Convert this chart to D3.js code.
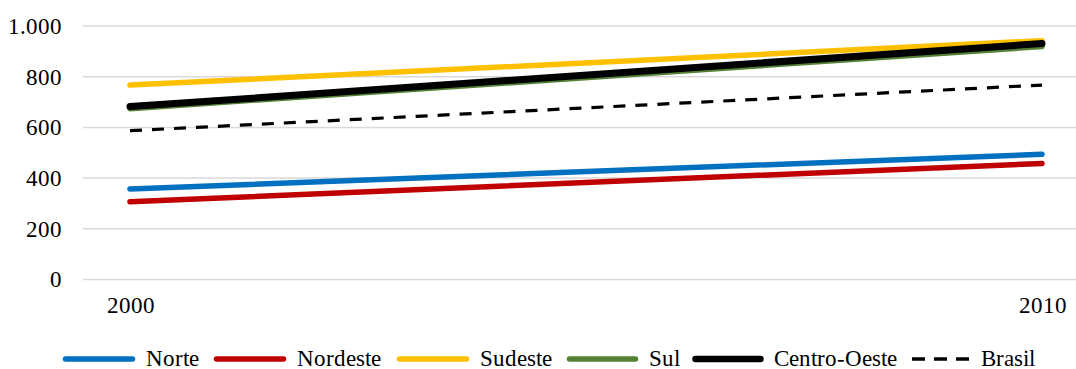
<!DOCTYPE html>
<html>
<head>
<meta charset="utf-8">
<script src="https://cdn.jsdelivr.net/npm/d3@7/dist/d3.min.js"></script>
<style>
  @font-face {
    font-family: "ChartSerif";
    src: local("Liberation Serif"), local("LiberationSerif"), local("LiberationSerif-Regular"), local("Times New Roman");
  }
  html, body { margin: 0; padding: 0; background: #fff; }
  #chart text { font-family: "ChartSerif", "Times New Roman", serif; font-size: 23px; fill: #000; }
</style>
</head>
<body>
<svg id="chart" width="1076" height="369"></svg>
<script>
// Years on the category axis
const years = [2000, 2010];
// Regions and their values for each year
const regions = ["Norte", "Nordeste", "Sudeste", "Sul", "Centro-Oeste", "Brasil"];
const norte = [357, 494];
const nordeste = [307, 458];
const sudeste = [767, 942];
const sul = [674, 919];
const centroOeste = [682, 931];
const brasil = [587, 767];
// Value-axis ticks
const yTicks = [0, 200, 400, 600, 800, 1000];

const seriesValues = [norte, nordeste, sudeste, sul, centroOeste, brasil];
const styles = [
  { color: "#0070C0", width: 5.5, dash: null },
  { color: "#C00000", width: 5.5, dash: null },
  { color: "#FFC000", width: 5.5, dash: null },
  { color: "#548235", width: 5.5, dash: null },
  { color: "#000000", width: 7, dash: null },
  { color: "#000000", width: 3.2, dash: "12,10" }
];

const svg = d3.select("#chart");
const fmt = d3.formatLocale({ decimal: ",", thousands: ".", grouping: [3], currency: ["R$", ""] }).format(",d");

const x = d3.scaleLinear().domain([2000, 2010]).range([130, 1042]);
const y = d3.scaleLinear().domain([0, 1000]).range([279.5, 26]);

// Horizontal gridlines
svg.append("g")
  .selectAll("line")
  .data(yTicks)
  .join("line")
  .attr("x1", 83).attr("x2", 1076)
  .attr("y1", d => y(d)).attr("y2", d => y(d))
  .attr("stroke", "#d9d9d9")
  .attr("stroke-width", 1.5);

// Value-axis labels
const yAxis = d3.axisLeft(y).tickValues(yTicks).tickFormat(fmt).tickSize(0).tickPadding(0);
const gy = svg.append("g").attr("transform", "translate(62,0)").call(yAxis);
gy.select(".domain").remove();
gy.attr("font-family", null).attr("font-size", null);

// Category-axis labels
const xAxis = d3.axisBottom(x).tickValues(years).tickFormat(d3.format("d")).tickSize(0).tickPadding(0);
const gx = svg.append("g").attr("transform", "translate(0,297)").call(xAxis);
gx.select(".domain").remove();
gx.attr("font-family", null).attr("font-size", null);

// Series lines
const line = d3.line().x((d, i) => x(years[i])).y(d => y(d));
svg.append("g")
  .selectAll("path")
  .data(seriesValues)
  .join("path")
  .attr("d", d => line(d))
  .attr("fill", "none")
  .attr("stroke", (d, i) => styles[i].color)
  .attr("stroke-width", (d, i) => styles[i].width)
  .attr("stroke-linecap", (d, i) => styles[i].dash ? "butt" : "round")
  .attr("stroke-dasharray", (d, i) => styles[i].dash);

// Legend
const legendX = [63, 214, 397, 567, 693, 912];
const legendLen = [72, 72, 72, 71, 70, 58];
const legend = svg.append("g");
regions.forEach((name, i) => {
  const s = styles[i];
  legend.append("line")
    .attr("x1", legendX[i] + (s.dash ? 0 : 2.5))
    .attr("x2", legendX[i] + legendLen[i] - (s.dash ? 0 : 2.5))
    .attr("y1", 359).attr("y2", 359)
    .attr("stroke", s.color)
    .attr("stroke-width", s.dash ? 3.5 : (i === 4 ? 6.5 : 5.5))
    .attr("stroke-linecap", s.dash ? "butt" : "round")
    .attr("stroke-dasharray", s.dash ? "13,9" : null);
  legend.append("text")
    .attr("x", legendX[i] + legendLen[i] + 11)
    .attr("y", 366)
    .text(name);
});
</script>
</body>
</html>
